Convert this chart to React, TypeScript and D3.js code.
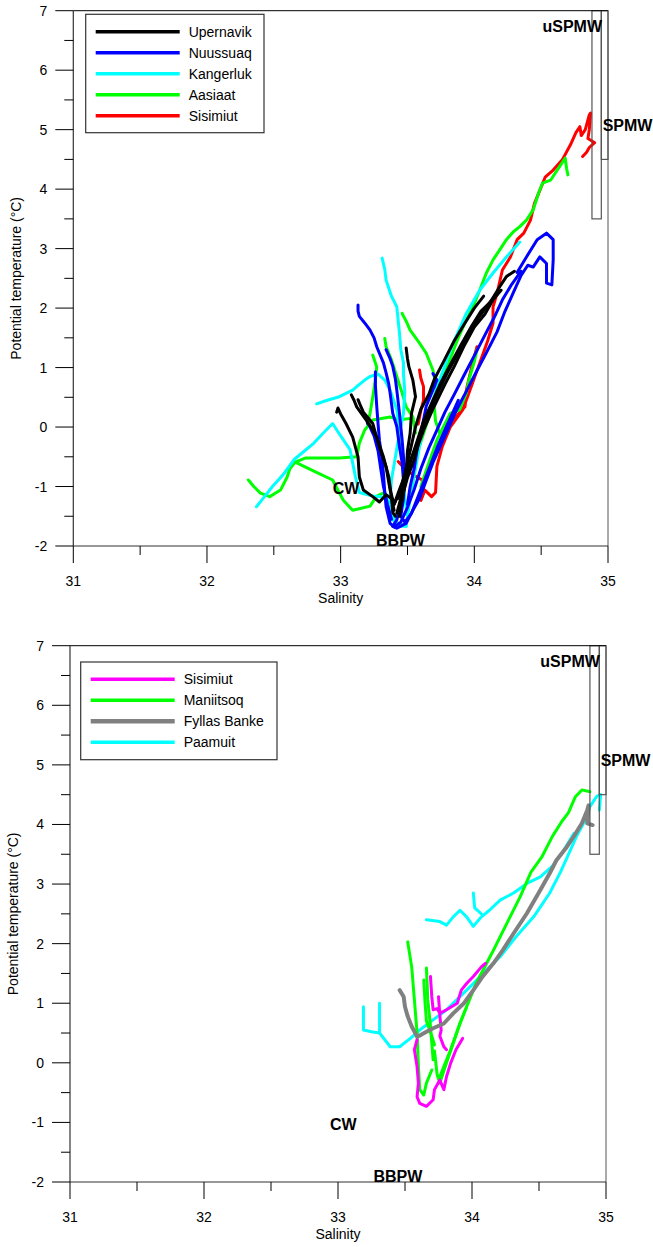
import React from "react";
import * as d3 from "d3";

type Pt = [number, number];

// ---- top panel: salinity / potential temperature profiles ----
const upernavik: Pt[][] = [
  [[32.97,0.25],[32.98,0.32],[33.0,0.22],[33.04,0.06],[33.09,-0.17],[33.13,-0.5],[33.14,-0.84],[33.17,-1.06],[33.24,-1.17],[33.29,-1.26],[33.34,-1.14],[33.38,-1.2],[33.4,-1.4]],
  [[33.08,0.54],[33.1,0.45],[33.12,0.34],[33.19,0.12],[33.22,0.02],[33.27,-0.17],[33.32,-0.5],[33.36,-0.84],[33.38,-1.17],[33.39,-1.44],[33.41,-1.5]],
  [[33.13,0.46],[33.15,0.35],[33.17,0.25],[33.24,0.06],[33.29,-0.34],[33.34,-0.67],[33.37,-1.06],[33.4,-1.3],[33.42,-1.2]],
  [[33.49,1.33],[33.5,1.15],[33.51,1.02],[33.54,0.79],[33.56,0.51],[33.53,0.23],[33.52,-0.1],[33.5,-0.4],[33.49,-0.78],[33.47,-1.1],[33.45,-1.35],[33.44,-1.5]],
  [[33.42,-1.45],[33.45,-1.2],[33.48,-0.9],[33.52,-0.6],[33.57,-0.25],[33.62,0.1],[33.68,0.4],[33.75,0.75],[33.82,1.05],[33.9,1.38],[33.98,1.7],[34.05,1.95],[34.12,2.1],[34.19,2.36],[34.24,2.53],[34.3,2.62]],
  [[33.4,-1.3],[33.44,-1.05],[33.5,-0.7],[33.55,-0.4],[33.6,-0.1],[33.66,0.25],[33.72,0.55],[33.8,0.92],[33.88,1.25],[33.95,1.55],[34.02,1.8],[34.1,2.05],[34.17,2.25]],
  [[33.44,-1.4],[33.47,-1.1],[33.5,-0.85],[33.55,-0.55],[33.58,-0.3],[33.63,0.0],[33.7,0.35],[33.78,0.72],[33.85,1.02],[33.92,1.35],[34.0,1.68],[34.08,1.9],[34.14,2.14],[34.2,2.3]],
  [[33.43,-1.2],[33.46,-0.95],[33.5,-0.6],[33.53,-0.3],[33.56,0.0],[33.6,0.3],[33.66,0.55],[33.7,0.8],[33.77,1.1],[33.85,1.45],[33.93,1.75],[34.0,2.0],[34.07,2.2]],
];

const nuussuaq: Pt[][] = [
  [[33.13,2.05],[33.13,1.95],[33.14,1.86],[33.18,1.75],[33.22,1.63],[33.25,1.5],[33.27,1.35],[33.29,1.24],[33.32,1.08],[33.34,0.91],[33.36,0.72],[33.37,0.57],[33.39,0.23],[33.42,0.01],[33.44,-0.33],[33.46,-0.6],[33.47,-0.9],[33.46,-1.22],[33.42,-1.56],[33.39,-1.67],[33.42,-1.7],[33.49,-1.62],[33.54,-1.4],[33.59,-1.2],[33.64,-0.9],[33.69,-0.6],[33.75,-0.3],[33.8,-0.05],[33.87,0.3],[33.94,0.6],[34.02,0.95],[34.09,1.25],[34.17,1.6],[34.23,1.95],[34.29,2.25],[34.35,2.55],[34.4,2.72],[34.44,2.69],[34.49,2.86],[34.54,2.75],[34.54,2.42],[34.58,2.39],[34.59,2.81],[34.59,3.15],[34.54,3.26],[34.47,3.15],[34.39,2.86],[34.32,2.6]],
  [[33.26,0.93],[33.26,0.7],[33.27,0.35],[33.28,0.05],[33.29,-0.22],[33.31,-0.55],[33.32,-0.78],[33.33,-1.1],[33.34,-1.34],[33.37,-1.62],[33.4,-1.68],[33.45,-1.6],[33.5,-1.35],[33.55,-1.05],[33.6,-0.7],[33.66,-0.35],[33.72,-0.05],[33.78,0.25],[33.85,0.55],[33.93,0.9],[34.0,1.2],[34.08,1.55],[34.15,1.85],[34.21,2.14],[34.28,2.4],[34.35,2.62]],
  [[33.34,1.3],[33.37,1.15],[33.39,1.02],[33.41,0.8],[33.42,0.62],[33.44,0.23],[33.46,-0.22],[33.48,-0.78],[33.47,-1.2],[33.45,-1.5],[33.48,-1.6],[33.53,-1.45],[33.6,-1.05],[33.67,-0.65],[33.73,-0.3],[33.8,0.05],[33.88,0.45]],
  [[33.69,0.9],[33.72,0.79],[33.7,0.68],[33.68,0.57],[33.64,0.35],[33.62,0.12],[33.6,-0.1],[33.57,-0.4],[33.55,-0.7],[33.52,-1.0],[33.5,-1.3]],
  [[33.2,0.07],[33.22,0.0],[33.25,-0.15],[33.28,-0.4],[33.3,-0.7],[33.32,-1.0],[33.35,-1.3],[33.38,-1.55]],
];

const kangerluk: Pt[][] = [
  [[33.31,2.84],[33.33,2.65],[33.34,2.47],[33.38,2.2],[33.42,2.02],[33.43,1.8],[33.44,1.58],[33.45,1.3],[33.47,1.08],[33.47,0.9],[33.48,0.6],[33.47,0.23],[33.44,-0.1],[33.41,-0.5],[33.38,-0.89],[33.37,-1.22],[33.39,-1.56],[33.44,-1.67],[33.49,-1.67]],
  [[33.49,-1.67],[33.52,-1.2],[33.56,-0.7],[33.6,-0.2],[33.66,0.25],[33.74,0.79],[33.84,1.4],[33.94,1.91],[34.04,2.3],[34.14,2.59],[34.24,2.86],[34.34,3.11]],
  [[32.82,0.39],[32.9,0.45],[32.99,0.51],[33.09,0.62],[33.12,0.68],[33.18,0.79],[33.22,0.85],[33.28,0.89],[33.33,0.79],[33.37,0.62],[33.42,0.29],[33.44,-0.05],[33.46,-0.4],[33.47,-0.8],[33.48,-1.2],[33.5,-1.5]],
  [[32.37,-1.34],[32.42,-1.2],[32.49,-1.0],[32.57,-0.8],[32.65,-0.55],[32.72,-0.42],[32.8,-0.27],[32.87,-0.1],[32.94,0.06],[33.0,-0.15],[33.07,-0.38],[33.11,-0.83],[33.14,-1.1],[33.24,-1.16],[33.34,-1.18],[33.39,-1.44],[33.41,-1.6],[33.47,-1.64]],
];

const aasiaat: Pt[][] = [
  [[32.31,-0.89],[32.35,-1.0],[32.4,-1.11],[32.47,-1.17],[32.55,-1.06],[32.6,-0.84],[32.62,-0.7],[32.66,-0.59],[32.74,-0.52],[32.85,-0.52],[32.99,-0.52],[33.12,-0.5],[33.14,-0.27],[33.18,-0.05],[33.24,0.12],[33.37,0.17],[33.43,0.12],[33.54,0.15]],
  [[32.66,-0.59],[32.8,-0.74],[32.94,-0.89],[33.02,-1.23],[33.09,-1.4],[33.22,-1.33],[33.27,-1.16],[33.33,-1.1]],
  [[33.46,1.91],[33.49,1.78],[33.52,1.63],[33.59,1.41],[33.64,1.24],[33.69,0.96],[33.72,0.62],[33.7,0.35],[33.71,0.1],[33.74,-0.1]],
  [[33.33,1.49],[33.34,1.35],[33.38,1.13],[33.42,0.85],[33.46,0.57],[33.49,0.34],[33.54,0.17],[33.56,-0.1]],
  [[33.24,1.21],[33.27,1.01],[33.26,0.79],[33.24,0.5],[33.22,0.23],[33.2,0.05]],
  [[33.55,-0.6],[33.6,-0.25],[33.65,0.1],[33.7,0.45],[33.76,0.8],[33.82,1.15],[33.88,1.5],[33.94,1.8],[33.99,2.02],[34.04,2.3],[34.09,2.59],[34.14,2.81],[34.19,2.98],[34.24,3.15],[34.29,3.28],[34.34,3.37],[34.39,3.48],[34.44,3.65],[34.48,3.93],[34.51,4.1],[34.57,4.15],[34.62,4.32],[34.68,4.52],[34.69,4.35],[34.7,4.24]],
  [[34.02,1.3],[34.0,1.1],[33.96,0.8],[33.94,0.57],[33.89,0.29],[33.82,0.23],[33.77,0.01],[33.72,-0.22],[33.66,-0.6],[33.6,-1.0]],
];

const sisimiutTop: Pt[][] = [
  [[33.6,-1.23],[33.63,-1.06],[33.68,-1.17],[33.71,-1.1],[33.72,-0.66],[33.76,-0.33],[33.82,0.0],[33.91,0.28],[33.94,0.45],[33.98,0.7],[34.02,0.95],[34.06,1.2],[34.1,1.45],[34.14,1.75],[34.14,2.02],[34.17,2.25],[34.21,2.64],[34.27,2.86],[34.32,3.15],[34.37,3.26],[34.42,3.48],[34.45,3.76],[34.49,3.98],[34.53,4.2],[34.59,4.32],[34.66,4.5],[34.72,4.75],[34.76,4.95],[34.79,5.05],[34.8,4.9],[34.83,5.0],[34.86,5.25],[34.87,5.28],[34.86,5.0],[34.85,4.85],[34.9,4.78],[34.86,4.7],[34.84,4.62],[34.81,4.55]],
  [[33.43,-0.58],[33.48,-0.7],[33.54,-0.8],[33.61,-0.89],[33.62,-1.1],[33.6,-1.23]],
  [[33.59,0.96],[33.6,0.82],[33.62,0.68],[33.62,0.45],[33.6,0.28],[33.58,0.05]],
  [[34.02,1.35],[33.98,1.01],[33.94,0.62],[33.93,0.34],[33.84,0.12],[33.79,0.06],[33.78,-0.1]],
];

// ---- bottom panel ----
const sisimiutBot: Pt[][] = [
  [[34.1,1.67],[34.07,1.61],[34.01,1.45],[33.96,1.33],[33.92,1.22],[33.89,1.0],[33.81,0.89],[33.76,0.83],[33.74,0.91],[33.71,0.89],[33.7,1.11],[33.69,1.45]],
  [[33.75,1.11],[33.76,0.8],[33.77,0.55],[33.76,0.45],[33.79,0.27],[33.81,0.22]],
  [[33.93,0.41],[33.88,0.22],[33.84,-0.01],[33.81,-0.23],[33.79,-0.45],[33.76,-0.29],[33.72,-0.45],[33.71,-0.62],[33.66,-0.73],[33.61,-0.68],[33.59,-0.57],[33.6,-0.34],[33.59,-0.06],[33.57,0.22],[33.59,0.39]],
];

const maniitsoq: Pt[][] = [
  [[33.52,2.03],[33.55,1.61],[33.57,1.06],[33.59,0.5],[33.6,-0.06],[33.61,-0.45],[33.64,-0.54],[33.66,-0.34],[33.7,-0.12]],
  [[33.66,1.59],[33.67,1.06],[33.69,0.61],[33.71,0.05]],
  [[33.64,1.39],[33.65,1.0],[33.66,0.7],[33.7,0.45],[33.72,0.3]],
  [[33.76,-0.23],[33.84,0.22],[33.91,0.66],[33.96,0.94],[34.03,1.33],[34.16,1.89],[34.26,2.34],[34.36,2.79],[34.44,3.2],[34.52,3.45],[34.6,3.8],[34.67,4.05],[34.72,4.2],[34.77,4.46],[34.82,4.58],[34.88,4.55]],
  [[33.96,0.94],[33.91,0.66],[33.86,0.33],[33.81,0.0],[33.76,-0.34],[33.74,-0.2],[33.72,0.2]],
];

const fyllasBanke: Pt[][] = [
  [[33.46,1.22],[33.49,1.11],[33.5,0.94],[33.52,0.78],[33.55,0.61],[33.59,0.44],[33.62,0.47],[33.66,0.52],[33.71,0.58],[33.79,0.66],[33.86,0.83],[33.94,1.0],[34.01,1.22],[34.08,1.45],[34.16,1.67],[34.23,1.89],[34.31,2.17],[34.41,2.51],[34.51,2.9],[34.58,3.18],[34.63,3.4],[34.7,3.6],[34.76,3.8],[34.82,4.02],[34.86,4.24],[34.87,4.32],[34.86,4.02],[34.9,3.99]],
];

const paamuit: Pt[][] = [
  [[33.19,0.94],[33.19,0.55],[33.25,0.52],[33.31,0.5],[33.39,0.27],[33.46,0.27],[33.54,0.41],[33.61,0.55],[33.71,0.72],[33.81,0.89],[33.91,1.11],[34.01,1.33],[34.11,1.56],[34.21,1.78],[34.33,2.12],[34.46,2.45],[34.58,2.85],[34.66,3.2],[34.72,3.5],[34.78,3.8],[34.84,4.05],[34.88,4.3],[34.93,4.47],[34.96,4.5],[34.95,4.24]],
  [[33.31,1.0],[33.31,0.75],[33.31,0.5]],
  [[33.66,2.4],[33.76,2.37],[33.81,2.31],[33.86,2.45],[33.91,2.56],[33.96,2.45],[34.01,2.29],[34.07,2.45],[34.13,2.56],[34.21,2.73],[34.31,2.85],[34.41,3.01],[34.51,3.12],[34.6,3.3],[34.68,3.55],[34.76,3.85]],
  [[34.01,2.85],[34.02,2.6],[34.07,2.5]],
];

const topNames = ["Upernavik", "Nuussuaq", "Kangerluk", "Aasiaat", "Sisimiut"];
const topColors = ["#000000", "#0000ff", "#00ffff", "#00ff00", "#ff0000"];
const topSeries = [upernavik, nuussuaq, kangerluk, aasiaat, sisimiutTop];

const botNames = ["Sisimiut", "Maniitsoq", "Fyllas Banke", "Paamuit"];
const botColors = ["#ff00ff", "#00ff00", "#808080", "#00ffff"];
const botSeries = [sisimiutBot, maniitsoq, fyllasBanke, paamuit];
const botDrawOrder = [3, 1, 0, 2];

const xTicks = [31, 32, 33, 34, 35];
const yTicks = [-2, -1, 0, 1, 2, 3, 4, 5, 6, 7];
const waterMasses: { name: string; s: number; t: number }[] = [
  { name: "uSPMW", s: 34.51, t: 6.64 },
  { name: "SPMW", s: 34.96, t: 4.98 },
  { name: "CW", s: 32.94, t: -1.13 },
  { name: "BBPW", s: 33.265, t: -2.0 },
];

const font = "'Liberation Sans', Arial, sans-serif";

function Panel({ x0, x1, y0, y1, series, colors, names, order, widths, legend }: any) {
  const x = d3.scaleLinear().domain([31, 35]).range([x0, x1]);
  const y = d3.scaleLinear().domain([-2, 7]).range([y1, y0]);
  const line = d3.line<Pt>().x((d) => x(d[0])).y((d) => y(d[1]));
  const minorX = d3.range(31, 35.01, 0.5);
  const minorY = d3.range(-2, 7.01, 0.5);
  return (
    <g fontFamily={font}>
      {/* curves */}
      <g fill="none" strokeLinejoin="round" strokeLinecap="round">
        {order.map((i: number) =>
          series[i].map((p: Pt[], k: number) => (
            <path key={i + "-" + k} d={line(p) || ""} stroke={colors[i]} strokeWidth={widths[i]} />
          ))
        )}
      </g>
      {/* water mass boxes */}
      <rect x={x(34.88)} y={y(7)} width={x(34.95) - x(34.88)} height={y(3.5) - y(7)} fill="none" stroke="#555" strokeWidth={1.2} />
      <rect x={x(34.95)} y={y(7)} width={x(35) - x(34.95)} height={y(4.5) - y(7)} fill="none" stroke="#555" strokeWidth={1.2} />
      {/* frame */}
      <line x1={x0} x2={x1} y1={y0} y2={y0} stroke="#000" />
      <line x1={x1} x2={x1} y1={y0} y2={y1} stroke="#555" />
      <line x1={x0} x2={x0} y1={y0} y2={y1} stroke="#333" strokeWidth={1.2} />
      <line x1={x0} x2={x1} y1={y1} y2={y1} stroke="#333" strokeWidth={1.2} />
      {minorY.map((v) => {
        const major = Math.abs(v - Math.round(v)) < 1e-6;
        return <line key={"yt" + v} x1={x0 - (major ? 18 : 9)} x2={x0} y1={y(v)} y2={y(v)} stroke="#000" />;
      })}
      {minorX.map((v) => {
        const major = Math.abs(v - Math.round(v)) < 1e-6;
        return <line key={"xt" + v} x1={x(v)} x2={x(v)} y1={y1} y2={y1 + (major ? 17 : 9)} stroke="#000" />;
      })}
      {yTicks.map((v) => (
        <text key={"yl" + v} x={x0 - 26} y={y(v) + 5} textAnchor="end" fontSize={14}>{v}</text>
      ))}
      {xTicks.map((v) => (
        <text key={"xl" + v} x={x(v)} y={y1 + 40} textAnchor="middle" fontSize={14}>{v}</text>
      ))}
      <text x={x(33.0)} y={y1 + 57} textAnchor="middle" fontSize={14}>Salinity</text>
      <text transform={`translate(${x0 - 52},${(y0 + y1) / 2}) rotate(-90)`} textAnchor="middle" fontSize={14}>Potential temperature (°C)</text>
      {waterMasses.map((w) => (
        <text key={w.name} x={x(w.s)} y={y(w.t)} fontSize={16} fontWeight="bold">{w.name}</text>
      ))}
      {/* legend */}
      <g>
        <rect x={legend.x} y={legend.y} width={legend.w} height={legend.h} fill="#fff" stroke="#333" strokeWidth={1.2} />
        {names.map((n: string, i: number) => (
          <g key={n} transform={`translate(0,${legend.y + legend.first + i * 21})`}>
            <line x1={legend.x + 10} x2={legend.x + 94} y1={0} y2={0} stroke={colors[i]} strokeWidth={widths[i] + 0.5} />
            <text x={legend.x + 103} y={5} fontSize={14}>{n}</text>
          </g>
        ))}
      </g>
    </g>
  );
}

export default function App() {
  return (
    <svg width={653} height={1247} style={{ position: "absolute", left: 0, top: 0, background: "#fff" }}>
      <rect width={653} height={1247} fill="#fff" />
      <Panel
        x0={73.3} x1={608} y0={10.7} y1={546}
        series={topSeries} colors={topColors} names={topNames}
        order={[4, 3, 2, 1, 0]} widths={[3, 3, 3, 3, 3]}
        legend={{ x: 85.7, y: 14.3, w: 178.3, h: 118.4, first: 17.4 }}
      />
      <Panel
        x0={70} x1={606} y0={645.7} y1={1182}
        series={botSeries} colors={botColors} names={botNames}
        order={botDrawOrder} widths={[3, 3, 4, 3]}
        legend={{ x: 80.7, y: 662, w: 196.3, h: 97.7, first: 17.3 }}
      />
    </svg>
  );
}
